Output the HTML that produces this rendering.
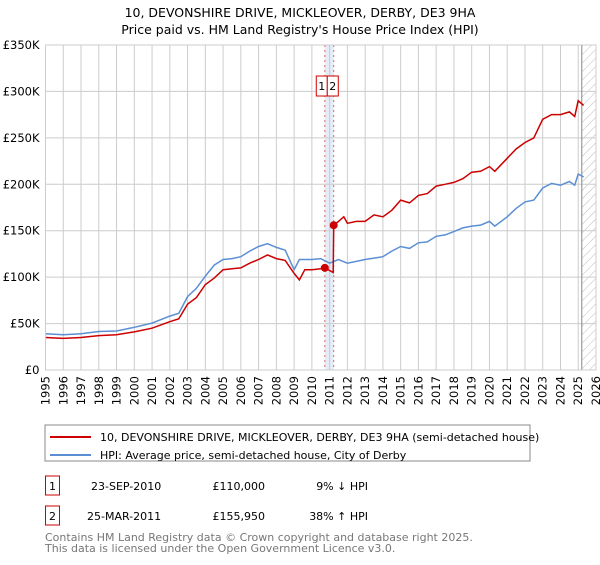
<!DOCTYPE html>
<html><head><meta charset="utf-8"><style>
body{margin:0;background:#fff;font-family:"Liberation Sans","DejaVu Sans",sans-serif;}
svg text{font-family:"DejaVu Sans","Liberation Sans",sans-serif;}
</style></head><body>
<svg width="600" height="560" xmlns="http://www.w3.org/2000/svg">
<defs><pattern id="hatch" width="6" height="6" patternUnits="userSpaceOnUse" patternTransform="rotate(45)"><line x1="0" y1="0" x2="0" y2="6" stroke="#bbb" stroke-width="1"/></pattern></defs>
<text x="300" y="17" text-anchor="middle" font-size="12.5">10, DEVONSHIRE DRIVE, MICKLEOVER, DERBY, DE3 9HA</text>
<text x="300" y="34" text-anchor="middle" font-size="12.5">Price paid vs. HM Land Registry's House Price Index (HPI)</text>
<g id="grid"></g><g id="marks"></g><g id="axes"></g>
<rect x="45" y="425" width="485" height="36" fill="none" stroke="#888"/>
<line x1="50" y1="437" x2="91" y2="437" stroke="#cc0000" stroke-width="2"/>
<text x="100" y="441" font-size="11">10, DEVONSHIRE DRIVE, MICKLEOVER, DERBY, DE3 9HA (semi-detached house)</text>
<line x1="50" y1="455" x2="91" y2="455" stroke="#5b8fd4" stroke-width="2"/>
<text x="100" y="459" font-size="11">HPI: Average price, semi-detached house, City of Derby</text>
<rect x="45.5" y="476" width="14" height="19" fill="none" stroke="#cc0000"/>
<text x="52.5" y="490" text-anchor="middle" font-size="11">1</text>
<text x="91" y="490" font-size="11">23-SEP-2010</text>
<text x="265" y="490" text-anchor="end" font-size="11">£110,000</text>
<text x="368" y="490" text-anchor="end" font-size="11">9% ↓ HPI</text>
<rect x="45.5" y="506" width="14" height="19" fill="none" stroke="#cc0000"/>
<text x="52.5" y="520" text-anchor="middle" font-size="11">2</text>
<text x="87" y="520" font-size="11">25-MAR-2011</text>
<text x="265" y="520" text-anchor="end" font-size="11">£155,950</text>
<text x="368" y="520" text-anchor="end" font-size="11">38% ↑ HPI</text>
<text x="45" y="541" font-size="11" fill="#777">Contains HM Land Registry data © Crown copyright and database right 2025.</text>
<text x="45" y="552" font-size="11" fill="#777">This data is licensed under the Open Government Licence v3.0.</text>
</svg>
<script>
const yTicks=[0,50,100,150,200,250,300,350];
const years=[1995,1996,1997,1998,1999,2000,2001,2002,2003,2004,2005,2006,2007,2008,2009,2010,2011,2012,2013,2014,2015,2016,2017,2018,2019,2020,2021,2022,2023,2024,2025,2026];
const hpiT=[1995,1996,1997,1998,1999,2000,2001,2002,2002.5,2003,2003.5,2004,2004.5,2005,2005.5,2006,2006.5,2007,2007.5,2008,2008.5,2009,2009.3,2009.6,2010,2010.5,2011,2011.5,2012,2013,2014,2014.5,2015,2015.5,2016,2016.5,2017,2017.5,2018,2018.5,2019,2019.5,2020,2020.3,2021,2021.5,2022,2022.5,2023,2023.5,2024,2024.5,2024.8,2025,2025.3];
const hpiV=[39,38,39,41.5,42,46,50.5,58,61,79,88,101,113,119,120,122,128,133,136,132,129,108,119,119,119,120,115,119,115,119,122,128,133,131,137,138,144,145.5,149,153,155,156,160,155,165,174,181,183,196,201,199,203,199,211,208];
const redT=[1995,1996,1997,1998,1999,2000,2001,2002,2002.5,2003,2003.5,2004,2004.5,2005,2005.5,2006,2006.5,2007,2007.5,2008,2008.5,2009,2009.3,2009.6,2010,2010.5,2010.73,2011.2,2011.23,2011.5,2011.8,2012,2012.5,2013,2013.5,2014,2014.5,2015,2015.5,2016,2016.5,2017,2017.5,2018,2018.5,2019,2019.5,2020,2020.3,2021,2021.5,2022,2022.5,2023,2023.5,2024,2024.5,2024.8,2025,2025.3];
const redV=[35,34,35,37,38,41,45,52,55,71,78,92,99,108,109,110,115,119,124,120,118,104,97,108,108,109,110,105,155.95,160,165,158,160,160,167,165,172,183,180,188,190,198,200,202,206,213,214,219,214,228,238,245,250,270,275,275,278,273,290,285];
const saleT=[2010.73,2011.23];
const saleV=[110,155.95];
const saleLabels=["1","2"];
const X0=45.5,X1=596,Y0=370,Y1=45;
const xs=t=>X0+(t-1995)/(2026-1995)*(X1-X0);
const ys=v=>Y0-v/350*(Y0-Y1);
const NS="http://www.w3.org/2000/svg";
function mk(p,tag,at){const e=document.createElementNS(NS,tag);for(const k in at)e.setAttribute(k,at[k]);p.appendChild(e);return e;}
const grid=document.getElementById('grid'),marks=document.getElementById('marks'),axes=document.getElementById('axes');
let band=mk(grid,'rect',{x:xs(saleT[0]),y:Y1,width:xs(saleT[1])-xs(saleT[0]),height:Y0-Y1,fill:'#e4ecf8'});


let hat=mk(grid,'rect',{x:xs(2025.2),y:Y1,width:X1-xs(2025.2),height:Y0-Y1,fill:'url(#hatch)'});


years.forEach(y=>{const l=mk(grid,'line',{x1:xs(y),x2:xs(y),y1:Y1,y2:Y0,stroke:'#ccc','stroke-width':1});


const t=mk(axes,'text',{x:0,y:0,'font-size':11.5,'text-anchor':'end',transform:`translate(${xs(y)+4},${Y0+6}) rotate(-90)`});t.textContent=y;

});
yTicks.forEach(v=>{const l=mk(grid,'line',{x1:X0,x2:X1,y1:ys(v),y2:ys(v),stroke:'#ccc','stroke-width':1});


const t=mk(axes,'text',{x:X0-6,y:ys(v)+4,'font-size':11.5,'text-anchor':'end'});t.textContent=v===0?'£0':'£'+v+'K';

});
let vl=mk(grid,'line',{x1:xs(2025.2),x2:xs(2025.2),y1:Y1,y2:Y0,stroke:'#888','stroke-width':1});


saleT.forEach((t,i)=>{const l=mk(grid,'line',{x1:xs(t),x2:xs(t),y1:Y1,y2:Y0,stroke:'#e06666','stroke-width':1,'stroke-dasharray':'2,3'});

});
const path=(T,V)=>T.map((t,i)=>(i?'L':'M')+xs(t).toFixed(1)+','+ys(V[i]).toFixed(1)).join('');
let hp=mk(marks,'path',{d:path(hpiT,hpiV),fill:'none',stroke:'#5b8fd4','stroke-width':1.5});


let rp=mk(marks,'path',{d:path(redT,redV),fill:'none',stroke:'#cc0000','stroke-width':1.5});


const mid=(xs(saleT[0])+xs(saleT[1]))/2-2;
saleT.forEach((t,i)=>{const c=mk(marks,'circle',{cx:xs(t),cy:ys(saleV[i]),r:4,fill:'#cc0000'});


const bx=i?mid:mid-11;
const r=mk(marks,'rect',{x:bx,y:76,width:11,height:20,fill:'#fff',stroke:'#cc0000'});


const tx=mk(marks,'text',{x:bx+5.5,y:90,'font-size':11,'text-anchor':'middle'});tx.textContent=saleLabels[i];

});
let ax=mk(axes,'rect',{x:X0,y:Y1,width:X1-X0,height:Y0-Y1,fill:'none',stroke:'#ccc'});


</script>
</body></html>
